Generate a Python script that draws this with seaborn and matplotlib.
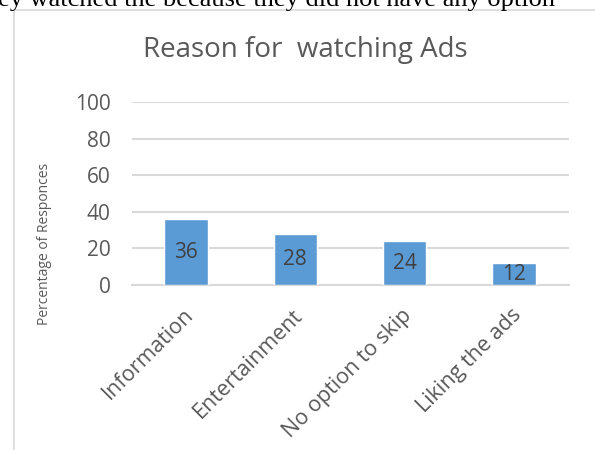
import matplotlib
matplotlib.use("Agg")
import matplotlib.pyplot as plt
import matplotlib.transforms as mtransforms
import seaborn as sns
import pandas as pd
from matplotlib.lines import Line2D

categories = ["Information", "Entertainment", "No option to skip", "Liking the ads"]
values = [36, 28, 24, 12]
yticks = [0, 20, 40, 60, 80, 100]

sns.set_theme(style="white")
plt.rcParams['font.family'] = ['Open Sans', 'DejaVu Sans']

df = pd.DataFrame({"Reason": categories, "Percent": values})

fig = plt.figure(figsize=(5.95, 4.5), dpi=100)
ax = fig.add_axes([131.5/595, 1 - 285/450, 437/595, 183/450])

sns.barplot(data=df, x="Reason", y="Percent", color="#5B9BD5", width=0.4,
            saturation=1, ax=ax, zorder=3)
ax.set_ylim(0, 100)
ax.set_yticks(yticks)
ax.set_xlim(-0.5, len(categories) - 0.5)
ax.grid(axis="y", color="#d9d9d9", linewidth=1.5, zorder=0)
ax.set_axisbelow(True)
for s in ["top", "right", "left"]:
    ax.spines[s].set_visible(False)
ax.spines["bottom"].set_color("#d9d9d9")
ax.spines["bottom"].set_linewidth(1.5)
ax.tick_params(axis="both", length=0, colors="#595959")
ax.tick_params(axis="y", pad=15, labelsize=15)
ax.tick_params(axis="x", pad=19.5, labelsize=15.5)
ax.set_xlabel("")
ax.set_ylabel("")
offset = mtransforms.ScaledTranslation(4/100, 0, fig.dpi_scale_trans)
for lab in ax.get_xticklabels():
    lab.set_rotation(45)
    lab.set_ha("right")
    lab.set_va("center")
    lab.set_rotation_mode("anchor")
    lab.set_transform(lab.get_transform() + offset)

for i, v in enumerate(values):
    ax.text(i, v / 2, str(v), ha="center", va="center", fontsize=15, color="#404040", zorder=4)

fig.text(305/595, 1 - 50/450, "Reason for  watching Ads", ha="center", va="center",
         fontsize=20, color="#595959")
fig.text(45/595, 1 - 244/450, "Percentage of Responces", rotation=90, ha="center",
         va="center", fontsize=10, color="#595959")

# surrounding frame lines
fig.add_artist(Line2D([13.5/595, 13.5/595], [0, 1 - 10/450], color="#d9d9d9", linewidth=1.2,
                      transform=fig.transFigure))
fig.add_artist(Line2D([13.5/595, 1], [1 - 10/450, 1 - 10/450], color="#d9d9d9", linewidth=1.2,
                      transform=fig.transFigure))

fig.text(-2/595, 1 - 6/450, "ey watched the because they did not have any option",
         family="Liberation Serif", fontsize=19, color="black", ha="left", va="baseline")

fig.savefig("out.png", dpi=100)
